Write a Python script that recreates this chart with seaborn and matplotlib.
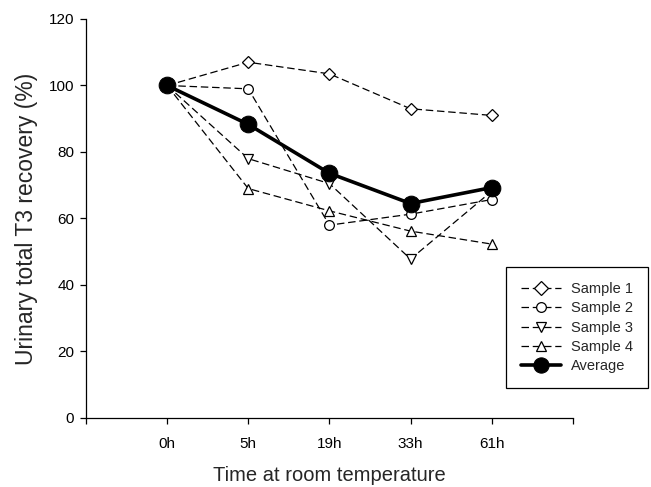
import matplotlib
matplotlib.use("Agg")
import matplotlib.pyplot as plt
import seaborn as sns
import pandas as pd

times = ["0h", "5h", "19h", "33h", "61h"]
sample1 = [100, 107, 103.5, 93, 91]
sample2 = [100, 99, 58, 61.3, 65.7]
sample3 = [100, 78, 70.5, 47.8, 68.2]
sample4 = [100, 69, 62.3, 56.2, 52.3]
average = [100, 88.3, 73.6, 64.5, 69.3]

sns.set_style("ticks")
plt.rcParams["font.family"] = ["Liberation Sans", "DejaVu Sans"]

fig = plt.figure(figsize=(6.51, 4.87), dpi=100)
ax = fig.add_axes([0.132, 0.1417, 0.748, 0.8193])

xpos = list(range(1, len(times) + 1))
series = [
    ("Sample 1", sample1, "D", 6),
    ("Sample 2", sample2, "o", 7),
    ("Sample 3", sample3, "v", 7),
    ("Sample 4", sample4, "^", 7),
]
for name, vals, mk, ms in series:
    df = pd.DataFrame({"x": xpos, "y": vals})
    sns.lineplot(data=df, x="x", y="y", ax=ax, color="black", lw=0.9,
                 marker=mk, markersize=ms, markerfacecolor="white",
                 markeredgecolor="black", markeredgewidth=0.9,
                 dashes=False, label=name)
    ax.lines[-1].set_dashes([6, 3])

dfa = pd.DataFrame({"x": xpos, "y": average})
sns.lineplot(data=dfa, x="x", y="y", ax=ax, color="black", lw=2.6,
             marker="o", markersize=12, markerfacecolor="black",
             markeredgecolor="black", label="Average")

ax.set_xlim(0, 6)
ax.set_ylim(0, 120)
ax.set_xticks(range(0, 7))
ax.set_xticklabels([""] + times + [""])
ax.set_yticks(range(0, 121, 20))
ax.tick_params(axis="both", labelsize=11, length=4.5, width=0.9, colors="black", pad=4)
ax.tick_params(axis="x", pad=9)
for s in ["top", "right"]:
    ax.spines[s].set_visible(False)
for s in ["left", "bottom"]:
    ax.spines[s].set_linewidth(0.9)
    ax.spines[s].set_color("black")

ax.set_xlabel("Time at room temperature", fontsize=14.5, labelpad=11)
ax.set_ylabel("Urinary total T3 recovery (%)", fontsize=16.5, labelpad=8)

leg = ax.legend(loc="upper left", bbox_to_anchor=(506 / 651, 1 - 267 / 487),
                bbox_transform=fig.transFigure, fontsize=10.5, frameon=True,
                fancybox=False, edgecolor="black", framealpha=1,
                handlelength=2.75, handletextpad=0.7, labelspacing=0.37,
                borderpad=1.02, borderaxespad=0)
leg.get_frame().set_linewidth(0.9)
for h in leg.legend_handles[:4]:
    h.set_markersize(7)
leg.legend_handles[4].set_markersize(11)

fig.savefig("out.png", dpi=100)
